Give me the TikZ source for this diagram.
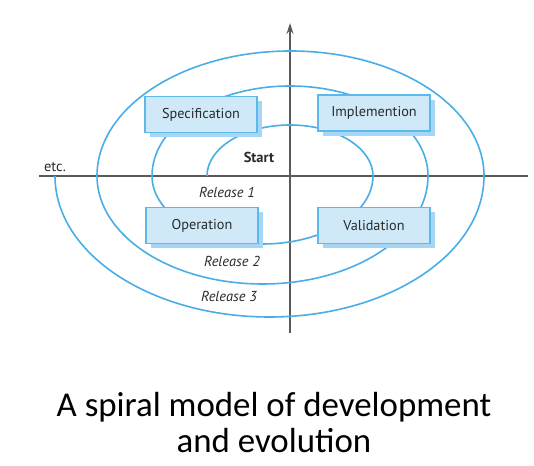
\documentclass[tikz,border=0pt]{standalone}
\usepackage{fontspec}
\setmainfont{PT Sans}
\newfontfamily\capfont{Carlito}
\usetikzlibrary{arrows.meta,shadows}
\definecolor{spiralc}{HTML}{4AAEE6}
\definecolor{boxfill}{HTML}{CFE9F9}
\definecolor{boxborder}{HTML}{5DB8EC}
\definecolor{shadowc}{HTML}{A6D6F5}
\definecolor{axisc}{HTML}{5A5A5A}
\definecolor{txt}{HTML}{2A2A2A}
\begin{document}
\begin{tikzpicture}[x=1bp,y=1bp,
  spiral/.style={draw=spiralc, line width=1.6bp},
  stage/.style={draw=boxborder, line width=1.2bp, fill=boxfill,
    minimum width=112bp, minimum height=36bp, inner sep=0pt,
    font=\fontsize{14.3}{16}\selectfont, text=txt,
    drop shadow={shadow xshift=5bp, shadow yshift=-5bp, fill=shadowc, opacity=1}},
  axisline/.style={draw=axisc, line width=1.3bp},
  lbl/.style={font=\fontsize{14.5}{16}\selectfont\itshape, text=txt, inner sep=0pt},
  caption/.style={font=\capfont\fontsize{35}{40}\selectfont, text=black, anchor=base, inner sep=0pt}]
\useasboundingbox (0,0) rectangle (534,466);
\fill[white] (0,0) rectangle (534,466);
% axes
\coordinate (hl) at (39,290);
\coordinate (hr) at (528,290);
\coordinate (vb) at (290,133);
\coordinate (vt) at (290,443);
\draw[axisline] (hl) -- (hr);
\draw[axisline,-{Stealth[length=11bp,width=7bp]}] (vb) -- (vt);
% spiral
\draw[spiral] (207,290)
  arc[start angle=180,end angle=0,x radius=83,y radius=51]
  arc[start angle=0,end angle=-180,x radius=110.5,y radius=68]
  arc[start angle=180,end angle=0,x radius=138,y radius=90]
  arc[start angle=0,end angle=-180,x radius=165.5,y radius=108]
  arc[start angle=180,end angle=0,x radius=193.5,y radius=125]
  arc[start angle=0,end angle=-180,x radius=214.5,y radius=141];
% stages
\node[stage] (spec) at (201,351.5) {Specification};
\node[stage] (impl) at (374,353) {Implemention};
\node[stage] (oper) at (202,240.5) {Operation};
\node[stage] (valid) at (374,240.5) {Validation};
% labels
\node[lbl, font=\fontsize{14.5}{16}\selectfont\bfseries] (start) at (259,309) {Start};
\node[lbl] (rel1) at (227,274) {Release 1};
\node[lbl] (rel2) at (232,205) {Release 2};
\node[lbl] (rel3) at (229,170) {Release 3};
\node[lbl, font=\fontsize{14.5}{16}\selectfont] (etc) at (55,299) {etc.};
% caption
\node[caption] (cap1) at (274,49) {A spiral model of development};
\node[caption] (cap2) at (274,13) {and evolution};
\end{tikzpicture}
\end{document}
